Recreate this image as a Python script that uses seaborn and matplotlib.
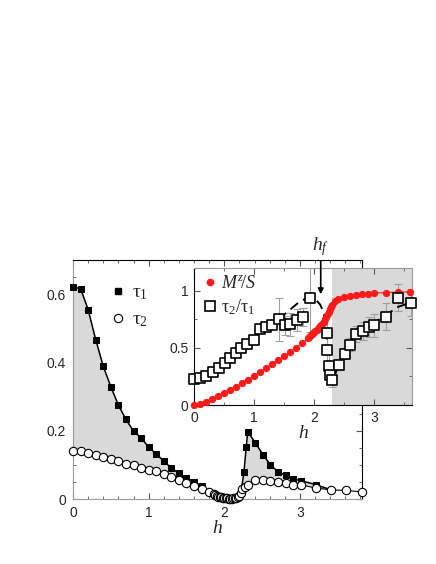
import numpy as np
import matplotlib
matplotlib.use("Agg")
import matplotlib.pyplot as plt
from matplotlib.ticker import MultipleLocator
from matplotlib.lines import Line2D
import seaborn as sns

# main panel: relaxation times vs field h
h_tau1 = [0.0, 0.1, 0.2, 0.3, 0.4, 0.5, 0.6, 0.7, 0.8, 0.9, 1.0, 1.1, 1.2, 1.3, 1.4,
          1.5, 1.6, 1.7, 1.8, 1.86, 1.9, 1.94, 1.98, 2.02, 2.06, 2.1, 2.14, 2.18, 2.22,
          2.26, 2.29, 2.31, 2.41, 2.51, 2.61, 2.71, 2.81, 2.91, 3.01, 3.21, 3.41]
tau1 = [0.621, 0.616, 0.555, 0.467, 0.389, 0.329, 0.275, 0.233, 0.199, 0.179, 0.152,
        0.132, 0.111, 0.091, 0.075, 0.062, 0.051, 0.038, 0.021, 0.014, 0.009, 0.006,
        0.004, 0.002, 0.001, 0.001, 0.003, 0.006, 0.018, 0.079, 0.152, 0.197, 0.165,
        0.130, 0.100, 0.080, 0.069, 0.059, 0.054, 0.042, 0.027]
# squares actually visible (the rest hide under the circles)
tau1_shown = [i for i in range(len(h_tau1)) if h_tau1[i] < 1.75 or 2.24 < h_tau1[i] < 3.3]

h_tau2 = [0.0, 0.1, 0.2, 0.3, 0.4, 0.5, 0.6, 0.7, 0.8, 0.9, 1.0, 1.1, 1.2, 1.3, 1.4,
          1.5, 1.6, 1.7, 1.8, 1.86, 1.88, 1.9, 1.92, 1.94, 1.96, 1.98, 2.0, 2.02, 2.04,
          2.06, 2.08, 2.1, 2.12, 2.14, 2.16, 2.18, 2.2, 2.22, 2.24, 2.27, 2.31, 2.41,
          2.51, 2.61, 2.71, 2.81, 2.91, 3.01, 3.21, 3.41, 3.61, 3.82]
tau2 = [0.140, 0.140, 0.135, 0.128, 0.123, 0.116, 0.110, 0.104, 0.099, 0.092, 0.086,
        0.081, 0.074, 0.065, 0.055, 0.047, 0.038, 0.029, 0.020, 0.014, 0.011, 0.009,
        0.007, 0.006, 0.005, 0.004, 0.003, 0.002, 0.002, 0.001, 0.001, 0.001, 0.002,
        0.003, 0.004, 0.006, 0.010, 0.018, 0.028, 0.036, 0.042, 0.056, 0.056, 0.054,
        0.051, 0.046, 0.042, 0.042, 0.032, 0.027, 0.025, 0.021]

# inset: magnetization and tau2/tau1
h_mz = [0.0, 0.1, 0.2, 0.3, 0.4, 0.5, 0.6, 0.7, 0.8, 0.9, 1.0, 1.1, 1.2, 1.3, 1.4, 1.5,
        1.6, 1.7, 1.8, 1.9, 1.92, 1.94, 1.96, 1.98, 2.0, 2.02, 2.04, 2.06, 2.08, 2.1,
        2.12, 2.14, 2.16, 2.18, 2.2, 2.22, 2.24, 2.26, 2.28, 2.3, 2.35, 2.4, 2.5, 2.6,
        2.7, 2.8, 2.9, 3.0, 3.2, 3.4, 3.6]
mz = [0.0, 0.012, 0.03, 0.055, 0.08, 0.105, 0.132, 0.16, 0.19, 0.222, 0.255, 0.29,
      0.323, 0.36, 0.395, 0.428, 0.462, 0.5, 0.54, 0.585, 0.6, 0.61, 0.62, 0.63, 0.64,
      0.65, 0.66, 0.67, 0.68, 0.69, 0.70, 0.715, 0.73, 0.75, 0.77, 0.79, 0.815, 0.84,
      0.86, 0.88, 0.91, 0.925, 0.942, 0.955, 0.962, 0.97, 0.975, 0.98, 0.985, 0.99, 0.99]

h_ratio = [0.0, 0.1, 0.2, 0.31, 0.41, 0.51, 0.6, 0.7, 0.79, 0.89, 1.0, 1.1, 1.2, 1.3,
           1.41, 1.51, 1.6, 1.71, 1.81, 1.93, 2.21, 2.21, 2.24, 2.27, 2.29, 2.41, 2.52,
           2.6, 2.69, 2.81, 2.91, 3.0, 3.2, 3.4, 3.62]
ratio = [0.23, 0.235, 0.252, 0.285, 0.322, 0.368, 0.41, 0.458, 0.5, 0.533, 0.57, 0.665,
         0.68, 0.697, 0.75, 0.697, 0.706, 0.744, 0.774, 0.941, 0.627, 0.485, 0.344,
         0.265, 0.22, 0.353, 0.45, 0.53, 0.618, 0.647, 0.682, 0.697, 0.774, 0.941, 0.897]
ratio_err = [0, 0, 0, 0, 0, 0, 0, 0, 0, 0, 0, 0, 0, 0, 0.19, 0.08, 0.1, 0.1, 0.08, 0.3,
             0.15, 0.12, 0.1, 0.08, 0.06, 0.05, 0.05, 0.06, 0.07, 0.08, 0.09, 0.1, 0.12,
             0.12, 0.12]

# dashed guide to the eye through the ratio
h_guide = [1.41, 1.57, 1.74, 1.85, 1.93, 2.02, 2.1, 2.16, 2.18, 2.2, 2.22, 2.25, 2.28,
           2.3, 2.35, 2.41, 2.52, 2.6, 2.69, 2.81, 2.91, 3.0, 3.2, 3.4, 3.62]
guide = [0.75, 0.823, 0.897, 0.93, 0.945, 0.927, 0.88, 0.81, 0.72, 0.64, 0.49, 0.34,
         0.25, 0.2, 0.27, 0.353, 0.45, 0.53, 0.6, 0.66, 0.7, 0.72, 0.79, 0.86, 0.9]

h_shade = 2.305   # start of the shaded high-field region
h_f = 2.11

sns.set_style("ticks")
plt.rcParams['font.family'] = ['Liberation Sans', 'DejaVu Sans']
plt.rcParams['mathtext.fontset'] = 'custom'
plt.rcParams['mathtext.rm'] = 'Liberation Serif'
plt.rcParams['mathtext.it'] = 'Liberation Serif:italic'

fig = plt.figure(figsize=(4.36, 5.64), dpi=100)
ax = fig.add_axes([0.1674, 0.1152, 0.6628, 0.4238])

# grey area between tau1 and tau2
h_fill = np.union1d(h_tau1, h_tau2)
h_fill = h_fill[h_fill <= h_tau1[-1]]
up = np.interp(h_fill, h_tau1, tau1)
lo = np.interp(h_fill, h_tau2, tau2)
ax.fill_between(h_fill, lo, np.maximum(up, lo), color='#d9d9d9', lw=0, zorder=1)

sns.lineplot(x=h_tau1, y=tau1, ax=ax, color='black', lw=1.1, marker='s',
             markevery=tau1_shown, markersize=5, markerfacecolor='black',
             markeredgecolor='black', estimator=None, sort=False, zorder=3, clip_on=False)
sns.lineplot(x=h_tau2, y=tau2, ax=ax, color='black', lw=0.8, marker='o',
             markersize=6, markerfacecolor='white', markeredgecolor='black',
             markeredgewidth=0.8, estimator=None, sort=False, zorder=4, clip_on=False)

ax.set_xlim(0, 3.82)
ax.set_ylim(0, 0.7)
ax.set_xticks([0, 1, 2, 3])
ax.set_xticklabels(['0', '1', '2', '3'])
ax.set_yticks([0, 0.2, 0.4, 0.6])
ax.set_yticklabels(['0', '0.2', '0.4', '0.6'])
ax.xaxis.set_minor_locator(MultipleLocator(0.2))
ax.yaxis.set_minor_locator(MultipleLocator(0.05))
ax.tick_params(which='both', direction='in', top=True, right=True, labelsize=10,
               color='#555555')
ax.tick_params(which='major', length=4, pad=5)
ax.tick_params(which='minor', length=2.5)
for s in ['left', 'bottom']:
    ax.spines[s].set_color('#999999')
for s in ['top', 'right']:
    ax.spines[s].set_color('black')
ax.set_xlabel(r'$h$', fontsize=14, labelpad=0)
ax.set_ylabel('')

handles = [Line2D([], [], ls='none', marker='s', ms=5, mfc='black', mec='black'),
           Line2D([], [], ls='none', marker='o', ms=6, mfc='white', mec='black', mew=0.8)]
ax.legend(handles, [r'$\mathrm{\tau}_1$', r'$\mathrm{\tau}_2$'], loc='upper left',
          bbox_to_anchor=(0.122, 0.90), frameon=False, fontsize=14, handlelength=1.0,
          handletextpad=0.2, labelspacing=0.45, borderpad=0, borderaxespad=0)

# inset
axi = fig.add_axes([0.445, 0.2819, 0.5, 0.2429])
axi.set_facecolor('white')
axi.axvspan(h_shade, 3.63, color='#d9d9d9', lw=0, zorder=0)
axi.errorbar(h_ratio, ratio, yerr=ratio_err, fmt='none', ecolor='#a0a0a0',
             elinewidth=0.8, capsize=3, capthick=0.8, zorder=1)
sns.lineplot(x=h_guide, y=guide, ax=axi, color='black', lw=1.4, linestyle=(0, (5, 3)),
             estimator=None, sort=False, zorder=2)
sns.lineplot(x=h_mz, y=mz, ax=axi, color='#ff1a1a', lw=0.8, marker='o', markersize=4.5,
             markerfacecolor='#ff1a1a', markeredgecolor='#ff1a1a', estimator=None,
             sort=False, zorder=3, clip_on=False)
sns.scatterplot(x=h_ratio, y=ratio, ax=axi, marker='s', s=55, facecolor='white',
                edgecolor='black', linewidth=1.2, zorder=4, clip_on=False)

axi.set_xlim(0, 3.63)
axi.set_ylim(0, 1.2)
axi.set_xticks([0, 1, 2, 3])
axi.set_xticklabels(['0', '1', '2', '3'])
axi.set_yticks([0, 0.5, 1])
axi.set_yticklabels(['0', '0.5', '1'])
axi.xaxis.set_minor_locator(MultipleLocator(0.5))
axi.yaxis.set_minor_locator(MultipleLocator(0.25))
axi.tick_params(which='both', direction='in', top=True, right=True, labelsize=10,
                color='#555555')
axi.tick_params(which='major', length=4, pad=4)
axi.tick_params(which='minor', length=2.5)
for s in ['left', 'bottom']:
    axi.spines[s].set_color('black')
for s in ['top', 'right']:
    axi.spines[s].set_color('#999999')
axi.set_xlabel(r'$h$', fontsize=14, labelpad=0)
axi.set_ylabel('')

ihandles = [Line2D([], [], ls='none', marker='o', ms=4.5, mfc='#ff1a1a', mec='#ff1a1a'),
            Line2D([], [], ls='none', marker='s', ms=7, mfc='white', mec='black', mew=1.2)]
axi.legend(ihandles, [r'$M^z\!/S$', r'$\mathrm{\tau}_2/\mathrm{\tau}_1$'],
           loc='upper left', bbox_to_anchor=(0.03, 0.95), frameon=False, fontsize=13,
           handlelength=1.0, handletextpad=0.15, labelspacing=0.3, borderpad=0,
           borderaxespad=0)

axi.annotate(r'$h_f$', xy=(h_f, 0.97), xytext=(h_f, 1.29), textcoords='data',
             ha='center', va='bottom', fontsize=14, annotation_clip=False,
             arrowprops=dict(arrowstyle='-|>', color='black', lw=1.2,
                             mutation_scale=8, shrinkA=0, shrinkB=0))

fig.savefig('out.png', dpi=100)
